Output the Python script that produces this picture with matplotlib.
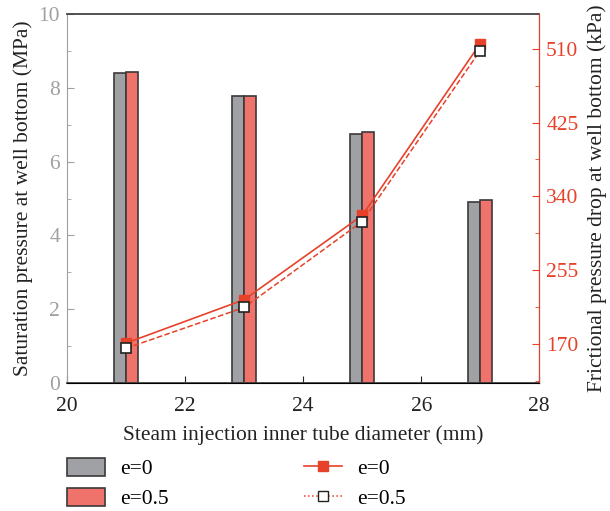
import matplotlib.pyplot as plt
from matplotlib.patches import Patch
from matplotlib.lines import Line2D
import numpy as np

plt.rcParams['font.family'] = ['Liberation Serif', 'DejaVu Serif']

# data
diameter = [21, 23, 25, 27]
sat_e0 = [8.41, 7.77, 6.75, 4.90]
sat_e05 = [8.44, 7.79, 6.80, 4.95]
fric_e0 = [171, 221, 318, 516]
fric_e05 = [165, 212, 311, 508]

gray = '#a0a1a5'
red_bar = '#f0736b'
red = '#e8412a'
edge = '#3a3a3a'
fs = 15.5

fig = plt.figure(figsize=(6.1, 5.11), dpi=100)
ax = fig.add_axes([0.110, 0.2505, 0.774, 0.722])

x = np.array(diameter)
w = 0.2
ax.bar(x - w / 2, sat_e0, width=w, color=gray, edgecolor=edge, linewidth=1.2)
ax.bar(x + w / 2, sat_e05, width=w, color=red_bar, edgecolor=edge, linewidth=1.2)
ax.set_xlim(20, 28)
ax.set_ylim(0, 10)
ax.set_xticks([20, 22, 24, 26, 28])
ax.set_yticks([0, 2, 4, 6, 8, 10])
ax.set_yticks([1, 3, 5, 7, 9], minor=True)
ax.tick_params(axis='x', direction='in', labelsize=fs, colors='#222222', length=5, pad=10, top=False)
ax.tick_params(axis='y', which='both', direction='in', labelsize=fs, colors='#a0a0a0', pad=5)
ax.tick_params(axis='y', which='major', length=5)
ax.tick_params(axis='y', which='minor', length=3)
ax.spines['left'].set_color('#a0a0a0')
ax.spines['top'].set_color('#444444')
ax.spines['bottom'].set_color('#444444')
ax.spines['top'].set_linewidth(1.3)
ax.spines['bottom'].set_linewidth(1.3)
ax.set_xlabel('Steam injection inner tube diameter (mm)', fontsize=fs, color='#222222', labelpad=7)
ax.set_ylabel('Saturation pressure at well bottom (MPa)', fontsize=fs, color='#222222', labelpad=4)

ax2 = ax.twinx()
ax2.plot(diameter, fric_e0, '-', color=red, lw=1.2, marker='s', ms=7.5,
         mfc=red, mec=red, zorder=3)
ax2.plot(diameter, fric_e05, '--', color=red, lw=1.1, marker='s', ms=7.5,
         mfc='white', mec='#222222', mew=1.2, zorder=4)
ax2.set_yticks([170, 255, 340, 425, 510])
ax2.set_yticks([127.5, 212.5, 297.5, 382.5, 467.5], minor=True)
ax2.set_ylim(125, 550)
ax2.tick_params(axis='y', which='both', direction='in', labelsize=fs, colors=red, pad=5)
ax2.tick_params(axis='y', which='major', length=5)
ax2.tick_params(axis='y', which='minor', length=3)
ax2.spines['right'].set_color(red)
ax2.spines['left'].set_visible(False)
ax2.spines['top'].set_visible(False)
ax2.set_ylabel('Frictional pressure drop at well bottom (kPa)', fontsize=fs, color='#222222', labelpad=6)

handles = [
    Patch(facecolor=gray, edgecolor=edge, linewidth=1.2, label='e=0'),
    Patch(facecolor=red_bar, edgecolor=edge, linewidth=1.2, label='e=0.5'),
    Line2D([], [], color=red, lw=1.2, marker='s', ms=7.5, mfc=red, mec=red, label='e=0'),
    Line2D([], [], color=red, lw=1.1, ls=':', marker='s', ms=7.5, mfc='white', mec='#222222', label='e=0.5'),
]
fig.legend(handles=handles, ncol=2, loc='upper left', bbox_to_anchor=(67 / 610, 1 - 458 / 511),
           frameon=False, fontsize=fs, handlelength=1.75, handleheight=0.9,
           columnspacing=6.3, labelspacing=0.4, handletextpad=0.7,
           borderpad=0, borderaxespad=0)

plt.savefig('out.png', dpi=100)
